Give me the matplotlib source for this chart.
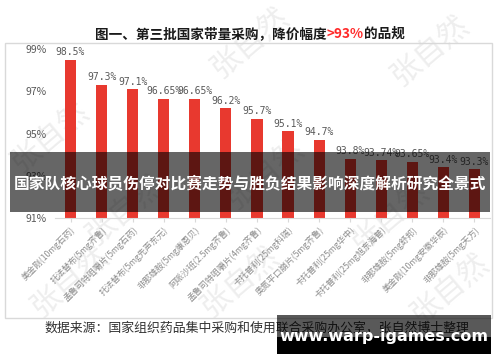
import matplotlib
matplotlib.use('Agg')
import matplotlib.pyplot as plt
from matplotlib.patches import Rectangle

plt.rcParams['font.family'] = ['Noto Sans CJK SC', 'DejaVu Sans']
plt.rcParams['axes.unicode_minus'] = False

# --- data ---
products = [
    '美金刚(10mg石药)', '托法替布(5mg齐鲁)', '孟鲁司特咀嚼片(5mg石药)',
    '托法替布(5mg先声东元)', '非那雄胺(5mg康恩贝)', '阿哌沙班(2.5mg齐鲁)',
    '孟鲁司特咀嚼片(4mg齐鲁)', '卡托普利(25mg科瑞)', '奥氮平口崩片(5mg齐鲁)',
    '卡托普利(25mg华中)', '卡托普利(25mg旭东海普)', '非那雄胺(5mg舒邦)',
    '美金刚(10mg安徽华辰)', '非那雄胺(5mg天方)',
]
cuts = [98.5, 97.3, 97.1, 96.65, 96.65, 96.2, 95.7, 95.1, 94.7,
        93.8, 93.74, 93.65, 93.4, 93.3]
cut_labels = ['98.5%', '97.3%', '97.1%', '96.65%', '96.65%', '96.2%', '95.7%',
              '95.1%', '94.7%', '93.8%', '93.74%', '93.65%', '93.4%', '93.3%']
yticks = [91, 93, 95, 97, 99]

RED = '#e8392f'

fig = plt.figure(figsize=(5, 3.62), dpi=100)
fig.patch.set_facecolor('white')

# faint watermarks, behind everything
for (wx, wy) in [(0.1, 0.62), (0.25, 0.42), (0.5, 0.88), (0.53, 0.52),
                 (0.78, 0.40), (0.86, 0.86), (0.9, 0.2), (0.14, 0.22), (0.48, 0.22)]:
    fig.text(wx, wy, '张自然', fontsize=22, color='#eeeeee', rotation=40,
             ha='center', va='center', zorder=-1)

# outer frame
fig.add_artist(Rectangle((5 / 500, 1 - 318 / 362), 487 / 500, 275 / 362,
                         transform=fig.transFigure, fill=False,
                         edgecolor='#d9d9d9', lw=1, zorder=1))

ax = fig.add_axes([55 / 500, 1 - 218 / 362, 435 / 500, 169 / 362])
ax.patch.set_alpha(0)
x = range(len(cuts))
ax.bar(x, [c - 91 for c in cuts], bottom=91, width=0.36, color=RED, zorder=2)
for i, (c, lab) in enumerate(zip(cuts, cut_labels)):
    ax.text(i, c + 0.12, lab, ha='center', va='bottom', fontsize=7,
            color='#595959', family=['DejaVu Sans Mono'])

ax.set_xlim(-0.5, len(cuts) - 0.5)
ax.set_ylim(91, 99)
ax.set_yticks(yticks)
ax.set_yticklabels([f'{t}%' for t in yticks], fontsize=7.5, color='#595959')
ax.yaxis.set_tick_params(length=0, pad=6)
ax.set_xticks(list(x))
ax.set_xticklabels(products, rotation=45, ha='right', rotation_mode='anchor',
                   fontsize=6.2, color='#8c8c8c')
ax.xaxis.set_tick_params(length=3, color='#d9d9d9', pad=2)
for s in ['top', 'right', 'left']:
    ax.spines[s].set_visible(False)
ax.spines['bottom'].set_color('#d9d9d9')

# title with red part
t1 = fig.text(95 / 500, 1 - 38 / 362, '图一、第三批国家带量采购，降价幅度',
              fontsize=9.8, fontweight='bold', color='#1a1a1a', va='baseline')
t2 = ax.annotate('>93%', xy=(1, 0), xycoords=t1, va='bottom', ha='left',
                 fontsize=9.8, fontweight='bold', color='#ff2a2a')
ax.annotate('的品规', xy=(1, 0), xycoords=t2, va='bottom', ha='left',
            fontsize=9.8, fontweight='bold', color='#1a1a1a')

# source line
fig.text(44 / 500, 1 - 332 / 362, '数据来源：国家组织药品集中采购和使用联合采购办公室，张自然博士整理',
         fontsize=9.3, color='#333333', va='baseline')

# dark headline band
fig.add_artist(Rectangle((10 / 500, 1 - 212 / 362), 480 / 500, 60 / 362,
                         transform=fig.transFigure, color='black', alpha=0.6,
                         lw=0, zorder=5))
fig.text(0.5, 1 - 184 / 362, '国家队核心球员伤停对比赛走势与胜负结果影响深度解析研究全景式',
         fontsize=11.3, fontweight='bold', color='white', ha='center',
         va='center', zorder=6)

# site box
fig.add_artist(Rectangle((277 / 500, 1 - 354 / 362), 214 / 500, 39 / 362,
                         transform=fig.transFigure, color='black', alpha=0.65,
                         lw=0, zorder=5))
fig.add_artist(Rectangle((277 / 500, 1 - 354 / 362), 214 / 500, 17 / 362,
                         transform=fig.transFigure, color='black',
                         lw=0, zorder=5))
fig.text(384 / 500, 1 - 336 / 362, 'www.warp-igames.com', fontsize=11.5,
         fontweight='bold', color='white', ha='center', va='center',
         family=['DejaVu Sans'], zorder=6)

fig.savefig('out.png', dpi=100)
